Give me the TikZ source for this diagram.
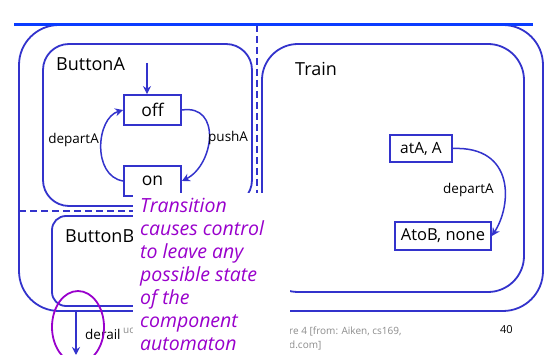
\documentclass[tikz,border=0pt]{standalone}
\usepackage{fontspec}
\setmainfont{Open Sans}
\usetikzlibrary{arrows.meta}
\definecolor{lnblue}{RGB}{51,51,204}
\definecolor{hdrblue}{RGB}{10,60,255}
\definecolor{purp}{RGB}{153,0,204}
\definecolor{foot}{RGB}{140,140,140}
\begin{document}
\begin{tikzpicture}[x=1pt,y=-1pt,
  frame/.style={draw=lnblue, line width=1.8pt},
  statebox/.style={draw=lnblue, line width=1.8pt, fill=white, inner sep=0pt, font=\fontsize{17.5}{20}\selectfont},
  trans/.style={draw=lnblue, line width=1.5pt, -{Stealth[length=8pt,width=8pt]}},
  lbl/.style={font=\fontsize{13.5}{15}\selectfont, inner sep=0pt},
  title/.style={font=\fontsize{18}{21}\selectfont, inner sep=0pt, anchor=west},
  dashline/.style={draw=lnblue, line width=1.5pt, dash pattern=on 7pt off 4pt},
  footer/.style={font=\fontsize{10}{12}\selectfont, text=foot, inner sep=0pt, anchor=west}]
\useasboundingbox[fill=white] (0,0) rectangle (547,355);
% frames
\draw[frame, rounded corners=40pt] (19,25) rectangle (543,311);
\draw[frame, rounded corners=26pt] (43,44) rectangle (252,206);
\draw[frame, rounded corners=36pt] (262,44) rectangle (524,292);
\draw[frame, rounded corners=14pt] (52,216) rectangle (250,306);
\draw[dashline] (257,25) -- (257,211);
\draw[dashline] (19,211) -- (257,211);
\draw[hdrblue, line width=3pt] (14,25) -- (533,25);
% titles
\node[title] (tA) at (56,64) {ButtonA};
\node[title] (tT) at (295,69) {Train};
\node[title] (tB) at (65,236) {ButtonB};
% states
\node[statebox, minimum width=57pt, minimum height=30pt] (off) at (152.5,110) {off};
\node[statebox, minimum width=57pt, minimum height=30pt] (on) at (152.5,181) {on};
\node[statebox, minimum width=62pt, minimum height=27pt, font=\fontsize{15.5}{18}\selectfont] (atA) at (421,148.5) {atA, A};
\node[statebox, minimum width=96pt, minimum height=28pt, font=\fontsize{16.5}{18}\selectfont] (AtoB) at (443,236) {AtoB, none};
% transitions
\coordinate (init) at (147,63);
\draw[trans] (init) -- (init |- off.north);
\draw[trans] (off.east) .. controls (222,104) and (214,165) .. (on.east);
\draw[trans] (on.west) .. controls (92,176) and (96,118) .. (off.west);
\draw[trans] (atA.east) .. controls (515,146) and (512,205) .. (AtoB.east);
\node[lbl, anchor=east] (lda) at (99,140) {departA};
\node[lbl, anchor=west] (lpa) at (208,138) {pushA};
\node[lbl, anchor=west] (ldt) at (443,190) {departA};
% derail
\coordinate (d0) at (76,311);
\coordinate (d1) at (76,355);
\draw[trans] (d0) -- (d1);
\node[lbl, anchor=west, font=\fontsize{13.5}{15}\selectfont] (der) at (85,334) {derail};
\node[footer] (fu) at (123,331) {uc};
\node[footer] (f1) at (289,331) {re 4 [from: Aiken, cs169,};
\node[footer] (f2) at (289,345) {d.com]};
\node[footer, text=black, font=\fontsize{11}{13}\selectfont] (pg) at (500,330) {40};
% callout
\fill[white] (133,193) rectangle (290,356);
\node[anchor=north west, inner sep=0pt, align=left, text=purp,
  font=\itshape\fontsize{19.5}{23}\selectfont] (note) at (140,198)
  {Transition\\causes control\\to leave any\\possible state\\of the\\component\\automaton};
\draw[purp, line width=1.8pt] (78,327) ellipse [x radius=26, y radius=36];
\end{tikzpicture}
\end{document}
